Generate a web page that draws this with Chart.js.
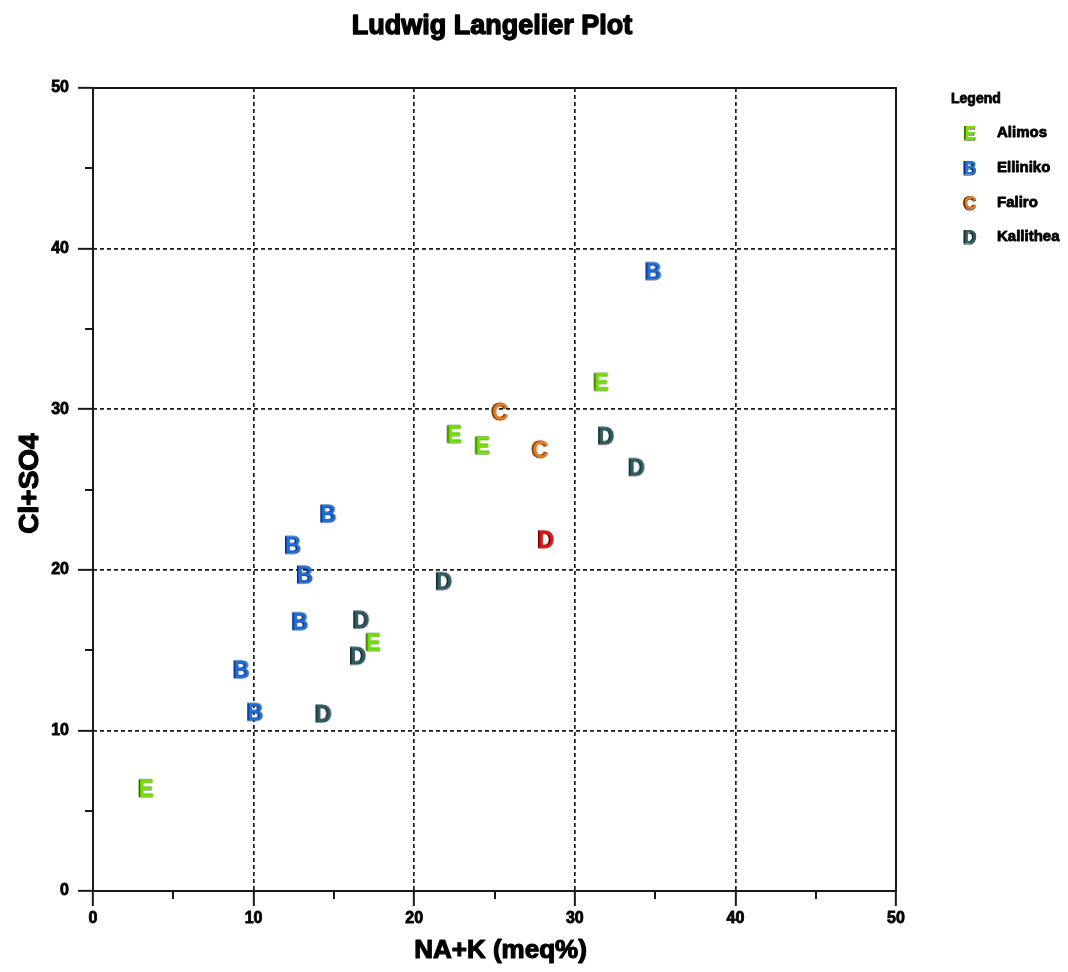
<!DOCTYPE html>
<html>
<head>
<meta charset="utf-8">
<title>Ludwig Langelier Plot</title>
<style>
  html, body { margin: 0; padding: 0; background: #ffffff; }
  #wrap { width: 1068px; height: 972px; }
</style>
<script src="https://cdn.jsdelivr.net/npm/chart.js@4.4.1/dist/chart.umd.min.js"></script>
</head>
<body>
<div id="wrap"><canvas id="plot" width="1068" height="972"></canvas></div>
<script>
// Sample groups (x = Na+K meq%, y = Cl+SO4 meq%)
const seriesNames = ['Alimos', 'Elliniko', 'Faliro', 'Kallithea'];
const seriesLetters = ['E', 'B', 'C', 'D'];

const alimosX = [3.3, 17.45, 22.5, 24.25, 31.65];
const alimosY = [6.4, 15.5, 28.45, 27.75, 31.7];

const ellinikoX = [9.25, 10.1, 12.45, 12.9, 13.2, 14.65, 34.9];
const ellinikoY = [13.8, 11.15, 21.55, 16.8, 19.7, 23.5, 38.6];

const faliroX = [25.35, 27.85];
const faliroY = [29.85, 27.5];

const kallitheaX = [14.35, 16.5, 16.7, 21.85, 31.95, 33.85, 28.2];
const kallitheaY = [11.05, 14.65, 16.9, 19.3, 28.35, 26.4, 21.9];
const kallitheaFlagged = [false, false, false, false, false, false, true];

const axisTicks = [0, 10, 20, 30, 40, 50];
const chartTitle = 'Ludwig Langelier Plot';
const xTitle = 'NA+K (meq%)';
const yTitle = 'Cl+SO4';

const FONT = "'Liberation Sans', Arial, Helvetica, sans-serif";

// Letter glyphs used as point markers (coloured face with a dark edge)
function letterMarker(ch, face, edge, size) {
  const c = document.createElement('canvas');
  const w = Math.ceil(size * 0.95) + 4;
  const h = Math.ceil(size) + 4;
  c.width = w; c.height = h;
  const g = c.getContext('2d');
  g.font = 'bold ' + size + 'px ' + FONT;
  g.textAlign = 'center';
  g.textBaseline = 'alphabetic';
  const base = h / 2 + size * 0.716 / 2;
  g.fillStyle = edge;
  g.strokeStyle = edge;
  g.lineWidth = 1;
  g.strokeText(ch, w / 2 - 0.6, base + 0.3);
  g.fillText(ch, w / 2 - 1, base);
  g.fillStyle = face;
  g.fillText(ch, w / 2 + 0.4, base);
  return c;
}

const palette = [
  { face: '#72e600', edge: '#3d5a10' },   // Alimos
  { face: '#1f6fe0', edge: '#0b2a66' },   // Elliniko
  { face: '#ea7a1c', edge: '#5a3010' },   // Faliro
  { face: '#2f5c63', edge: '#16282c' }    // Kallithea
];
const flaggedColour = { face: '#e01414', edge: '#5a0808' };

const pointMarkers = palette.map((p, i) => letterMarker(seriesLetters[i], p.face, p.edge, 23));
const legendMarkers = palette.map((p, i) => letterMarker(seriesLetters[i], p.face, p.edge, 18));
const flaggedMarker = letterMarker('D', flaggedColour.face, flaggedColour.edge, 23);

function toPoints(xs, ys) {
  return xs.map((x, i) => ({ x: x, y: ys[i] }));
}

const datasets = [
  { label: seriesNames[0], data: toPoints(alimosX, alimosY), pointStyle: pointMarkers[0] },
  { label: seriesNames[1], data: toPoints(ellinikoX, ellinikoY), pointStyle: pointMarkers[1] },
  { label: seriesNames[2], data: toPoints(faliroX, faliroY), pointStyle: pointMarkers[2] },
  {
    label: seriesNames[3],
    data: toPoints(kallitheaX, kallitheaY),
    pointStyle: ctx => (kallitheaFlagged[ctx.dataIndex] ? flaggedMarker : pointMarkers[3])
  }
].map(d => Object.assign(d, { pointRadius: 10, showLine: false }));

const isMajor = v => axisTicks.includes(v);
const isInnerMajor = v => isMajor(v) && v !== 0 && v !== 50;

function axisOptions(isX) {
  return {
    type: 'linear',
    min: 0,
    max: 50,
    ticks: {
      stepSize: 5,
      autoSkip: false,
      maxRotation: 0,
      padding: isX ? 3 : 9,
      color: '#000',
      textStrokeColor: '#000',
      textStrokeWidth: 0.8,
      font: { family: FONT, size: 16, weight: 'bold' },
      callback: v => (isMajor(v) ? String(v) : '')
    },
    grid: {
      drawOnChartArea: true,
      color: ctx => (ctx.tick && isInnerMajor(ctx.tick.value) ? '#1a1a1a' : 'rgba(0,0,0,0)'),
      lineWidth: 1.7,
      tickLength: 15,
      tickWidth: 2,
      tickColor: ctx => (ctx.tick && isMajor(ctx.tick.value) ? '#1a1a1a' : 'rgba(0,0,0,0)')
    },
    border: { display: false, dash: [4, 3] },
    afterFit: scale => {
      if (isX) { scale.height = 81; } else { scale.width = 93; }
    }
  };
}

function heavyText(ctx, text, x, y, stroke) {
  ctx.lineWidth = stroke;
  ctx.lineJoin = 'round';
  ctx.strokeText(text, x, y);
  ctx.fillText(text, x, y);
}

// Frame, minor ticks, titles and legend drawn around the plot area
const decorations = {
  id: 'decorations',
  beforeDatasetsDraw(chart) {
    const { ctx, chartArea: a, scales: { x, y } } = chart;
    ctx.save();
    ctx.strokeStyle = '#1a1a1a';
    ctx.lineWidth = 2;
    ctx.strokeRect(a.left, a.top, a.right - a.left, a.bottom - a.top);
    // minor ticks at the half-decades
    ctx.beginPath();
    for (let v = 5; v < 50; v += 10) {
      const px = Math.round(x.getPixelForValue(v));
      ctx.moveTo(px, a.bottom);
      ctx.lineTo(px, a.bottom + 8);
      const py = Math.round(y.getPixelForValue(v));
      ctx.moveTo(a.left, py);
      ctx.lineTo(a.left - 8, py);
    }
    ctx.stroke();
    ctx.restore();
  },
  afterDraw(chart) {
    const { ctx, chartArea: a } = chart;
    ctx.save();
    ctx.fillStyle = '#000';
    ctx.strokeStyle = '#000';
    ctx.textBaseline = 'middle';
    ctx.textAlign = 'center';

    ctx.font = 'bold 27px ' + FONT;
    heavyText(ctx, chartTitle, 492, 27, 1.4);

    ctx.font = 'bold 26px ' + FONT;
    heavyText(ctx, xTitle, (a.left + a.right) / 2 + 6, 951, 1.2);

    ctx.save();
    ctx.translate(30, (a.top + a.bottom) / 2 - 6);
    ctx.rotate(-Math.PI / 2);
    ctx.font = 'bold 28px ' + FONT;
    heavyText(ctx, yTitle, 0, 0, 1.2);
    ctx.restore();

    ctx.textAlign = 'left';
    ctx.font = 'bold 14px ' + FONT;
    heavyText(ctx, 'Legend', 951, 99, 0.8);
    ctx.font = 'bold 15px ' + FONT;
    const rowY = [133, 168, 203, 237];
    chart.data.datasets.forEach((ds, i) => {
      const m = legendMarkers[i];
      ctx.drawImage(m, 970 - m.width / 2, rowY[i] - m.height / 2);
      heavyText(ctx, ds.label, 997, rowY[i], 0.8);
    });
    ctx.restore();
  }
};

new Chart(document.getElementById('plot'), {
  type: 'scatter',
  data: { datasets: datasets },
  options: {
    responsive: false,
    animation: false,
    events: [],
    devicePixelRatio: 1,
    layout: { padding: { left: 0, right: 172, top: 88, bottom: 0 } },
    plugins: {
      legend: { display: false },
      title: { display: false },
      tooltip: { enabled: false }
    },
    scales: {
      x: axisOptions(true),
      y: axisOptions(false)
    }
  },
  plugins: [decorations]
});
</script>
</body>
</html>
